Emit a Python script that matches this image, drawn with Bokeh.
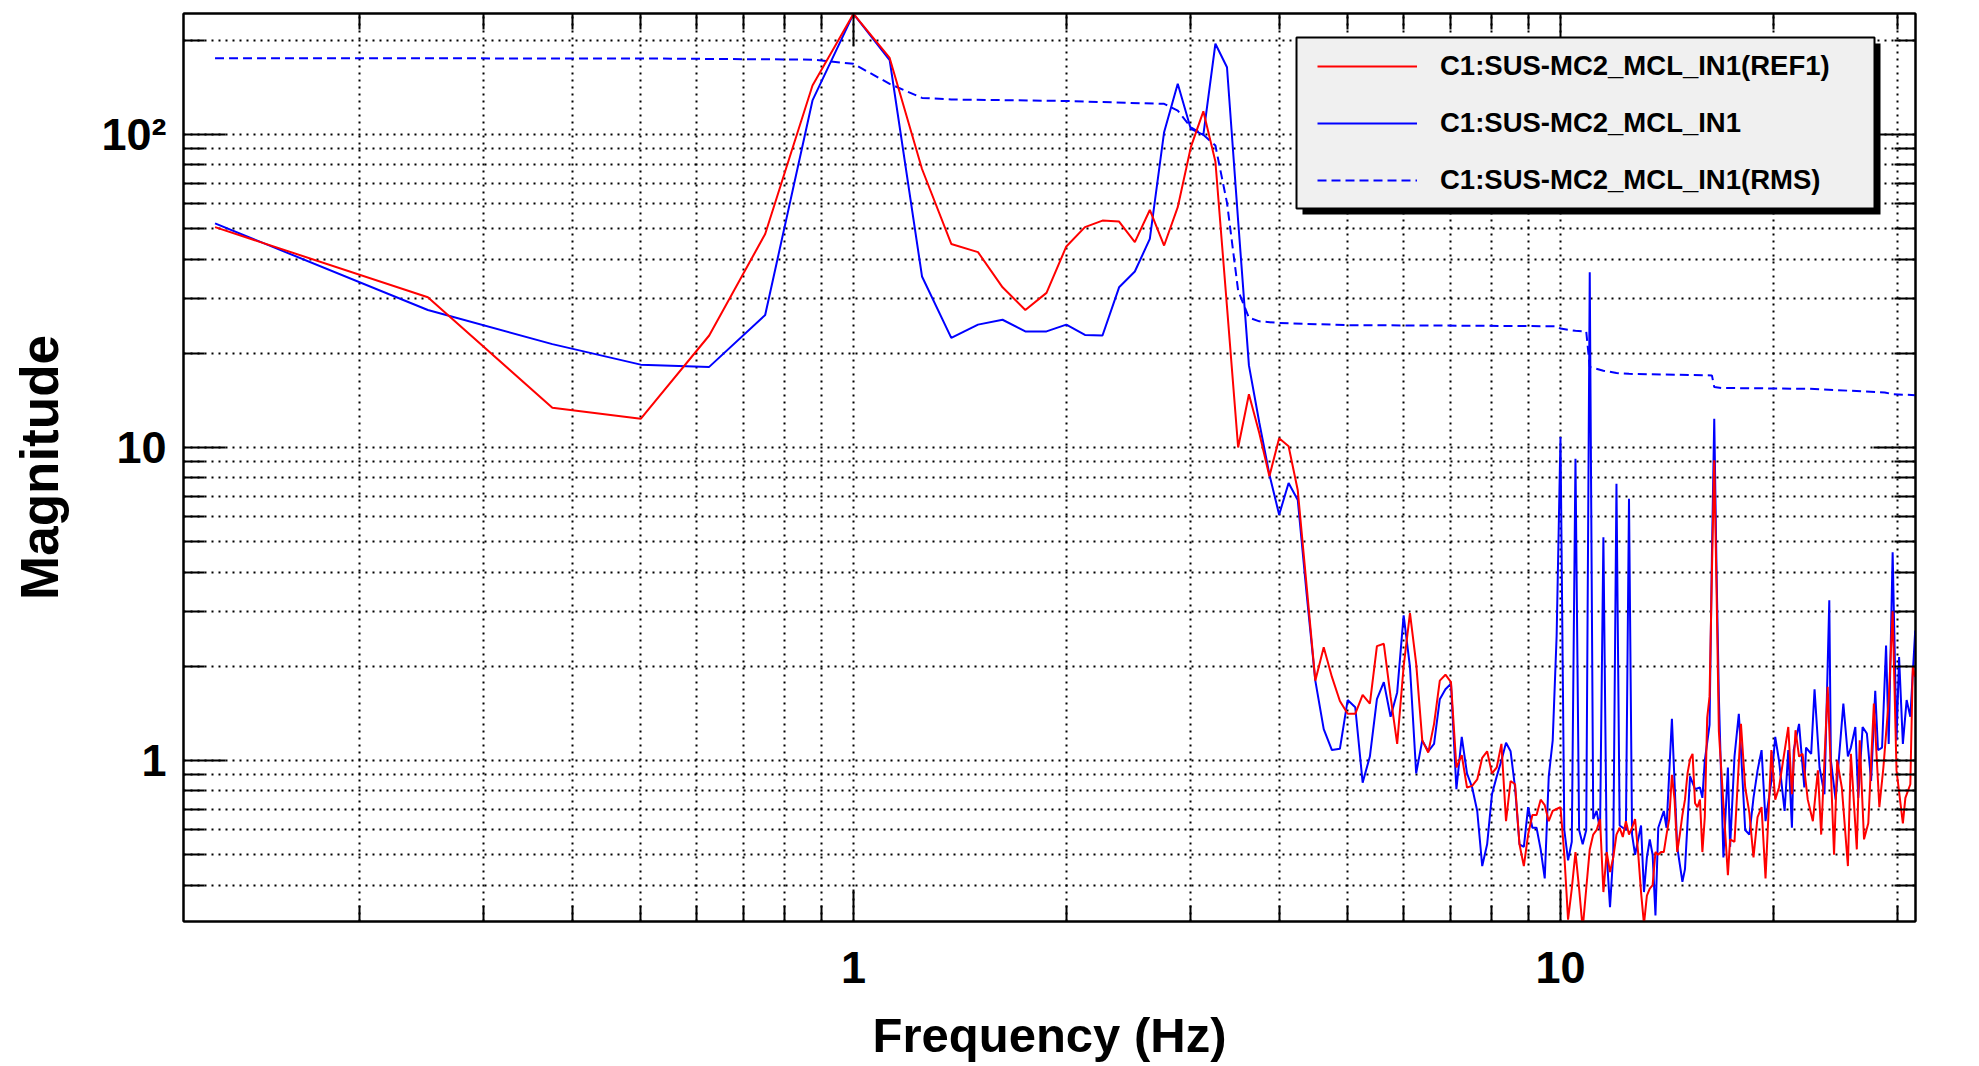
from bokeh.plotting import figure
from bokeh.models import Range1d, FixedTicker, LogAxis, Legend, LegendItem, BoxAnnotation
from bokeh.embed import file_html
from bokeh.resources import INLINE

FONT = "Liberation Sans"

# ---------------- data ----------------
bin_freq = [
    0.125, 0.25, 0.375, 0.5, 0.625, 0.75, 0.875, 1.0,
    1.125, 1.25, 1.375, 1.5, 1.625, 1.75, 1.875, 2.0,
    2.125, 2.25, 2.375, 2.5, 2.625, 2.75, 2.875, 3.0,
    3.125, 3.25, 3.375, 3.5, 3.625, 3.75, 3.875, 4.0,
    4.125, 4.25, 4.375, 4.5, 4.625, 4.75, 4.875, 5.0,
    5.125, 5.25, 5.375, 5.5, 5.625, 5.75, 5.875, 6.0,
    6.125, 6.25, 6.375, 6.5, 6.625, 6.75, 6.875, 7.0,
    7.125, 7.25, 7.375, 7.5, 7.625, 7.75, 7.875, 8.0,
    8.125, 8.25, 8.375, 8.5, 8.625, 8.75, 8.875, 9.0,
    9.125, 9.25, 9.375, 9.5, 9.625, 9.75, 9.875, 10.0,
]

ref1_low = [
    50.6, 30.2, 13.4, 12.35, 22.8, 48.1, 143.5, 243.0,
    175.7, 77.6, 44.7, 42.1, 32.5, 27.5, 31.2, 43.9,
    50.6, 53.1, 52.7, 45.3, 57.4, 44.2, 58.6, 91.1,
    118.6, 82.0, 28.2, 10.0, 14.8, 11.1, 8.1, 10.7,
    10.1, 7.3, 3.6, 1.80, 2.30, 1.85, 1.55, 1.41,
    1.41, 1.62, 1.52, 2.32, 2.36, 1.60, 1.13, 2.00,
    2.96, 2.04, 1.16, 1.06, 1.31, 1.80, 1.88, 1.78,
    0.95, 1.04, 0.82, 0.83, 0.87, 1.02, 1.07, 0.91,
    0.95, 1.13, 0.64, 0.86, 0.84, 0.54, 0.46, 0.58,
    0.67, 0.67, 0.75, 0.72, 0.64, 0.69, 0.70, 0.71,
]

in1_low = [
    52.0, 27.5, 21.4, 18.4, 18.1, 26.5, 128.5, 243.0,
    173.0, 35.2, 22.4, 24.7, 25.6, 23.5, 23.5, 24.7,
    22.9, 22.8, 32.5, 36.5, 46.4, 101.7, 145.2, 104.2,
    99.8, 195.0, 164.0, 53.0, 18.3, 12.0, 8.2, 6.1,
    7.7, 6.8, 3.4, 1.80, 1.26, 1.08, 1.09, 1.56,
    1.48, 0.85, 1.03, 1.57, 1.78, 1.38, 1.65, 2.91,
    1.99, 0.91, 1.16, 1.07, 1.13, 1.57, 1.69, 1.76,
    0.81, 1.19, 0.91, 0.82, 0.69, 0.46, 0.54, 0.78,
    0.89, 1.00, 1.14, 1.07, 0.82, 0.54, 0.53, 0.71,
    0.61, 0.61, 0.52, 0.42, 0.89, 1.16, 2.50, 10.8,
]

ref1_high_freq = [
    10.125, 10.25, 10.375, 10.5, 10.625, 10.75, 10.875, 11.0, 11.125, 11.25,
    11.375, 11.5, 11.625, 11.75, 11.875, 12.0, 12.125, 12.25, 12.375, 12.5,
    12.625, 12.75, 12.875, 13.0, 13.125, 13.25, 13.375, 13.5, 13.625, 13.75,
    13.875, 14.0, 14.125, 14.25, 14.375, 14.5, 14.625, 14.75, 14.875, 15.0,
    15.125, 15.25, 15.375, 15.5, 15.625, 15.75, 15.875, 16.0, 16.125, 16.25,
    16.375, 16.5, 16.625, 16.75,
    17.25, 17.375, 17.625, 18.0, 18.25, 18.5, 18.75, 19.0, 19.25, 19.5,
    19.875, 20.125, 20.375, 21.0, 21.25, 21.5, 21.75, 22.0, 22.375, 22.75,
    23.125, 23.375, 23.875, 24.375, 24.625, 25.0, 25.5, 25.75, 26.25, 26.5,
    26.875, 27.25, 27.75, 28.25, 28.625, 29.125, 29.5, 29.875, 30.5, 30.75,
    31.25, 31.5, 31.75,
]
ref1_high = [
    0.50, 0.31, 0.39, 0.51, 0.39, 0.29, 0.39, 0.52, 0.58, 0.60,
    0.65, 0.38, 0.51, 0.44, 0.49, 0.58, 0.61, 0.57, 0.64, 0.58,
    0.61, 0.65, 0.51, 0.38, 0.30, 0.37, 0.39, 0.40, 0.51, 0.50,
    0.51, 0.51, 0.58, 0.65, 0.90, 0.75, 0.51, 0.58, 0.67, 0.75,
    0.91, 1.01, 1.05, 0.73, 0.71, 0.75, 0.51, 0.66, 1.37, 1.60,
    4.0, 9.1, 3.5, 1.24,
    0.43, 0.56, 0.55, 1.31, 0.82, 0.68, 0.49, 0.66, 0.71, 0.42,
    1.08, 0.75, 0.82, 1.28, 0.78, 1.25, 1.03, 1.05, 0.75, 0.64,
    0.93, 0.58, 1.72, 0.50, 1.00, 0.82, 0.46, 1.05, 0.52, 1.16,
    0.56, 0.63, 1.52, 0.71, 0.95, 1.56, 3.0, 0.93, 0.63, 0.76,
    0.84, 1.99, 1.85,
]

in1_high_freq = [
    10.125, 10.25, 10.375, 10.5, 10.625, 10.75, 10.875, 11.0, 11.125, 11.25,
    11.375, 11.5, 11.625, 11.75, 11.875, 12.0, 12.125, 12.25, 12.375, 12.5,
    12.625, 12.75,
    13.0, 13.125, 13.25, 13.375, 13.5, 13.625, 13.75, 14.0, 14.125, 14.375,
    14.625, 14.875, 15.0, 15.25, 15.5, 15.75, 15.875, 16.0, 16.25, 16.375,
    16.5, 16.625, 16.75, 17.0, 17.25, 17.375, 17.625, 17.875, 18.0, 18.25,
    18.5, 18.75, 19.0, 19.25, 19.5, 19.875, 20.125, 20.375, 20.75, 21.0,
    21.25, 21.375, 21.75, 22.125, 22.25, 22.625, 22.875, 23.25, 23.625, 24.0,
    24.125, 24.5, 25.125, 25.5, 25.75, 26.125, 26.375, 26.75, 27.125, 27.5,
    27.875, 28.125, 28.5, 28.875, 29.125, 29.5, 29.875, 30.125, 30.5, 30.875,
    31.25, 31.75,
]
in1_high = [
    0.60, 0.48, 0.55, 9.2, 0.60, 0.54, 0.60, 36.3, 0.65, 0.69,
    0.60, 5.17, 0.50, 0.34, 0.50, 7.66, 0.62, 0.61, 0.60, 6.86,
    0.58, 0.50,
    0.62, 0.38, 0.49, 0.56, 0.50, 0.32, 0.61, 0.69, 0.61, 1.36,
    0.53, 0.41, 0.45, 0.89, 0.81, 0.82, 0.76, 1.00, 1.30, 4.5,
    12.35, 4.0, 1.6, 0.49, 0.95, 0.53, 1.03, 1.41, 1.08, 0.60,
    0.58, 0.76, 0.93, 1.08, 0.64, 0.86, 1.19, 1.00, 0.69, 1.08,
    0.61, 1.08, 1.31, 0.82, 1.10, 1.05, 1.69, 0.95, 0.78, 3.25,
    1.00, 0.75, 1.52, 1.03, 1.10, 1.28, 0.76, 1.28, 1.22, 0.86,
    1.67, 1.08, 1.10, 2.33, 1.13, 4.63, 1.16, 2.14, 1.13, 1.56,
    1.38, 2.60,
]

rms_freq = [0.125, 0.5, 0.875, 1.0, 1.125, 1.25, 1.375, 2.0, 2.75, 2.875,
            3.0, 3.125, 3.25, 3.375, 3.5, 3.625, 3.75, 4.0, 5.0, 7.5,
            9.875, 10.0, 10.5, 10.875, 11.0, 11.5, 12.0, 12.5, 16.375, 16.5,
            16.875, 22.5, 28.75, 29.5, 31.75]
rms_mag = [175.3, 175.0, 173.5, 168.2, 145.2, 130.9, 129.4, 128.0, 125.3, 119.3,
           105.5, 99.8, 92.2, 60.6, 31.7, 26.0, 25.3, 25.0, 24.6, 24.5,
           24.4, 24.0, 23.6, 23.5, 18.1, 17.6, 17.3, 17.2, 17.0, 15.6,
           15.5, 15.4, 15.0, 14.8, 14.7]

x_major = [1, 10]
x_minor = [0.2, 0.3, 0.4, 0.5, 0.6, 0.7, 0.8, 0.9, 2, 3, 4, 5, 6, 7, 8, 9, 20, 30]
y_major = [1, 10, 100]
y_minor = [0.3, 0.4, 0.5, 0.6, 0.7, 0.8, 0.9, 2, 3, 4, 5, 6, 7, 8, 9,
           20, 30, 40, 50, 60, 70, 80, 90, 200]
x_tick_labels = {1: "1", 10: "10"}
y_tick_labels = {1: "1", 10: "10", 100: "10\u00b2"}
series_names = ["C1:SUS-MC2_MCL_IN1(REF1)", "C1:SUS-MC2_MCL_IN1", "C1:SUS-MC2_MCL_IN1(RMS)"]
x_title = "Frequency (Hz)"
y_title = "Magnitude"

ref1_freq = bin_freq + ref1_high_freq
ref1_mag = ref1_low + ref1_high
in1_freq = bin_freq + in1_high_freq
in1_mag = in1_low + in1_high

# ---------------- figure ----------------
p = figure(width=1979, height=1066, x_axis_type="log", y_axis_type="log",
           x_range=Range1d(0.1128, 31.78), y_range=Range1d(0.306, 243.6),
           output_backend="svg", toolbar_location=None,
           min_border_left=183, min_border_right=64, min_border_top=13,
           min_border_bottom=145)
p.background_fill_color = "white"
p.border_fill_color = "white"
p.outline_line_color = "black"
p.outline_line_width = 2

xt = FixedTicker(ticks=x_major, minor_ticks=x_minor)
yt = FixedTicker(ticks=y_major, minor_ticks=y_minor)


def style_axis(ax, major_len, minor_len):
    ax.major_tick_in = major_len
    ax.major_tick_out = 0
    ax.minor_tick_in = minor_len
    ax.minor_tick_out = 0
    ax.major_tick_line_color = "black"
    ax.major_tick_line_width = 2
    ax.minor_tick_line_color = "black"
    ax.minor_tick_line_width = 2
    ax.axis_line_color = "black"
    ax.axis_line_width = 2
    ax.major_label_text_font = FONT
    ax.major_label_text_font_style = "bold"
    ax.major_label_text_color = "black"
    ax.axis_label_text_font = FONT
    ax.axis_label_text_font_style = "bold"
    ax.axis_label_text_color = "black"


xa = p.xaxis[0]
xa.ticker = xt
xa.major_label_overrides = x_tick_labels
style_axis(xa, 32, 16)
xa.major_label_text_font_size = "45px"
xa.major_label_standoff = 30
xa.axis_label = x_title
xa.axis_label_text_font_size = "49px"
xa.axis_label_standoff = 22

ya = p.yaxis[0]
ya.ticker = yt
ya.major_label_overrides = y_tick_labels
style_axis(ya, 42, 21)
ya.major_label_text_font_size = "45px"
ya.major_label_standoff = 17
ya.axis_label = y_title
ya.axis_label_text_font_size = "53px"
ya.axis_label_standoff = 29

top_ax = LogAxis(ticker=xt)
style_axis(top_ax, 32, 16)
top_ax.major_label_text_font_size = "1px"
top_ax.major_label_text_alpha = 0.0
top_ax.major_label_standoff = 0
p.add_layout(top_ax, "above")

right_ax = LogAxis(ticker=yt)
style_axis(right_ax, 42, 21)
right_ax.major_label_text_font_size = "1px"
right_ax.major_label_text_alpha = 0.0
right_ax.major_label_standoff = 0
p.add_layout(right_ax, "right")

for g, tk in ((p.xgrid[0], xt), (p.ygrid[0], yt)):
    g.ticker = tk
    g.grid_line_color = "black"
    g.grid_line_width = 2
    g.grid_line_dash = "2 5"
    g.minor_grid_line_color = "black"
    g.minor_grid_line_width = 2
    g.minor_grid_line_dash = "2 5"

r_rms = p.line(rms_freq, rms_mag, line_color="#0000ff", line_width=2, line_dash="9 5")
r_in1 = p.line(in1_freq, in1_mag, line_color="#0000ff", line_width=2)
r_ref = p.line(ref1_freq, ref1_mag, line_color="#ff0000", line_width=2)

# legend frame: shadow + light-grey box (frame-relative screen units)
shadow = BoxAnnotation(left=1119, right=1697, top=878, bottom=707,
                       left_units="screen", right_units="screen",
                       top_units="screen", bottom_units="screen",
                       fill_color="black", fill_alpha=1.0, line_color=None)
p.add_layout(shadow)
legend_box = BoxAnnotation(left=1113, right=1691, top=884, bottom=713,
                           left_units="screen", right_units="screen",
                           top_units="screen", bottom_units="screen",
                           fill_color="#f0f0f0", fill_alpha=1.0,
                           line_color="black", line_width=2, line_alpha=1.0)
p.add_layout(legend_box)

legend = Legend(items=[LegendItem(label=series_names[0], renderers=[r_ref]),
                       LegendItem(label=series_names[1], renderers=[r_in1]),
                       LegendItem(label=series_names[2], renderers=[r_rms])],
                location=(1134, 725), orientation="vertical",
                background_fill_alpha=0.0, border_line_color=None,
                label_text_font=FONT, label_text_font_style="bold",
                label_text_font_size="27.5px", label_text_color="black",
                glyph_width=100, glyph_height=32, label_height=32,
                label_standoff=23, label_width=380, spacing=25, padding=0,
                margin=0)
p.add_layout(legend)

open("out.html", "w").write(file_html(p, INLINE))
